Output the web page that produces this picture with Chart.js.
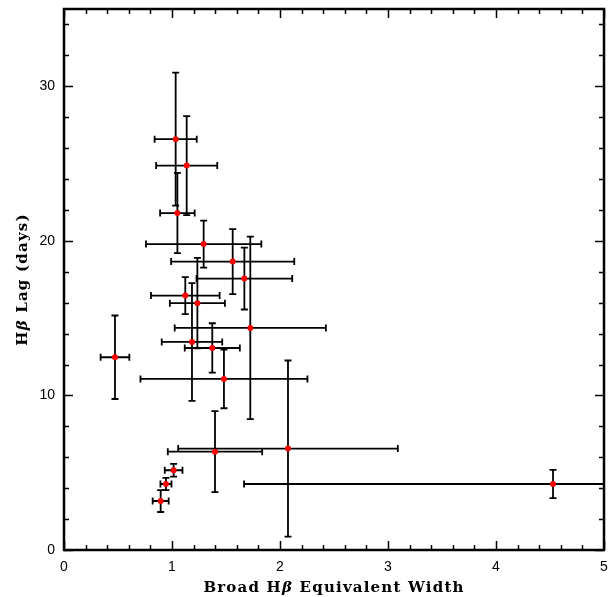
<!DOCTYPE html>
<html>
<head>
<meta charset="utf-8">
<script src="https://cdn.jsdelivr.net/npm/chart.js@4.4.1/dist/chart.umd.min.js"></script>
<style>
  html, body { margin: 0; padding: 0; background: #fff; }
  #wrap { width: 608px; height: 597px; }
</style>
</head>
<body>
<div id="wrap"><canvas id="lagChart" width="608" height="597"></canvas></div>
<script>
// Broad Hβ equivalent width against Hβ lag, with symmetric errors on both axes
const ewValues  = [1.034, 1.136, 1.050, 1.293, 1.562, 1.670, 1.123, 1.235, 1.725, 1.185, 1.373, 0.472, 1.481, 2.074, 1.398, 1.015, 0.944, 0.895, 4.528];
const ewErrors  = [0.195, 0.283, 0.160, 0.534, 0.570, 0.443, 0.318, 0.255, 0.700, 0.280, 0.255, 0.133, 0.773, 1.017, 0.437, 0.082, 0.051, 0.074, 2.861];
const lagValues = [26.58, 24.87, 21.80, 19.79, 18.66, 17.56, 16.46, 15.97, 14.37, 13.46, 13.07, 12.47, 11.07, 6.56, 6.36, 5.16, 4.27, 3.17, 4.27];
const lagErrors = [4.30, 3.20, 2.60, 1.52, 2.10, 2.00, 1.20, 2.93, 5.90, 3.81, 1.60, 2.70, 1.90, 5.70, 2.62, 0.41, 0.40, 0.71, 0.92];

const xTickValues = [0, 1, 2, 3, 4, 5];
const yTickValues = [0, 10, 20, 30];
const xMinorStep = 0.2;
const yMinorStep = 2;

// axis titles as [text, italic?] runs so the beta can be slanted
const xTitleParts = [['Broad H', false], ['β', true], [' Equivalent Width', false]];
const yTitleParts = [['H', false], ['β', true], [' Lag (days)', false]];

// error bars go under the red points, clipped to the plot box
const errorBarPlugin = {
    id: 'errorBars',
    beforeDatasetsDraw(chart) {
        const { ctx, chartArea, scales: { x, y } } = chart;
        const cap = 3.5;
        ctx.save();
        ctx.beginPath();
        ctx.rect(chartArea.left, chartArea.top, chartArea.right - chartArea.left, chartArea.bottom - chartArea.top);
        ctx.clip();
        ctx.strokeStyle = '#000';
        ctx.lineWidth = 1.8;
        ewValues.forEach((ew, i) => {
            const px = x.getPixelForValue(ew);
            const py = y.getPixelForValue(lagValues[i]);
            const x0 = x.getPixelForValue(ew - ewErrors[i]);
            const x1 = x.getPixelForValue(ew + ewErrors[i]);
            const y0 = y.getPixelForValue(lagValues[i] - lagErrors[i]);
            const y1 = y.getPixelForValue(lagValues[i] + lagErrors[i]);
            ctx.beginPath();
            ctx.moveTo(x0, py); ctx.lineTo(x1, py);
            ctx.moveTo(x0, py - cap); ctx.lineTo(x0, py + cap);
            ctx.moveTo(x1, py - cap); ctx.lineTo(x1, py + cap);
            ctx.moveTo(px, y0); ctx.lineTo(px, y1);
            ctx.moveTo(px - cap, y0); ctx.lineTo(px + cap, y0);
            ctx.moveTo(px - cap, y1); ctx.lineTo(px + cap, y1);
            ctx.stroke();
        });
        ctx.restore();
    }
};

function titleFont(italic) {
    return (italic ? 'italic ' : '') + 'bold 15px "DejaVu Serif", serif';
}

// draws the runs centred on (0, 0) with the baseline at y = 0
function drawRuns(ctx, parts) {
    ctx.letterSpacing = '1.2px';
    const widths = parts.map(([text, italic]) => {
        ctx.font = titleFont(italic);
        return ctx.measureText(text).width;
    });
    let cursor = -widths.reduce((a, b) => a + b, 0) / 2;
    parts.forEach(([text, italic], i) => {
        ctx.font = titleFont(italic);
        ctx.fillText(text, cursor, 0);
        cursor += widths[i];
    });
}

// box frame with inward major/minor ticks on all four sides, plus axis titles
const framePlugin = {
    id: 'frame',
    afterDraw(chart) {
        const { ctx, chartArea: { left, right, top, bottom }, scales: { x, y } } = chart;
        const majorLen = 9, minorLen = 5;
        ctx.save();
        ctx.strokeStyle = '#000';
        ctx.lineWidth = 1.5;
        ctx.beginPath();
        for (let v = x.min; v <= x.max + 1e-9; v += xMinorStep) {
            const isMajor = xTickValues.some(t => Math.abs(t - v) < 1e-6);
            const len = isMajor ? majorLen : minorLen;
            const px = Math.round(x.getPixelForValue(v)) + 0.5;
            ctx.moveTo(px, bottom); ctx.lineTo(px, bottom - len);
            ctx.moveTo(px, top); ctx.lineTo(px, top + len);
        }
        for (let v = y.min; v <= y.max + 1e-9; v += yMinorStep) {
            const isMajor = yTickValues.some(t => Math.abs(t - v) < 1e-6);
            const len = isMajor ? majorLen : minorLen;
            const py = Math.round(y.getPixelForValue(v)) + 0.5;
            ctx.moveTo(left, py); ctx.lineTo(left + len, py);
            ctx.moveTo(right, py); ctx.lineTo(right - len, py);
        }
        ctx.stroke();

        ctx.lineWidth = 2.5;
        ctx.strokeRect(left, top, right - left, bottom - top);

        ctx.fillStyle = '#000';
        ctx.textAlign = 'left';
        ctx.textBaseline = 'alphabetic';

        ctx.save();
        ctx.translate((left + right) / 2, 592);
        drawRuns(ctx, xTitleParts);
        ctx.restore();

        ctx.save();
        ctx.translate(27, (top + bottom) / 2);
        ctx.rotate(-Math.PI / 2);
        drawRuns(ctx, yTitleParts);
        ctx.restore();

        ctx.restore();
    }
};

const tickFont = { family: '"Liberation Sans", Arial, sans-serif', size: 14 };

const ctx = document.getElementById('lagChart').getContext('2d');
const lagChart = new Chart(ctx, {
    type: 'scatter',
    data: {
        datasets: [{
            data: ewValues.map((ew, i) => ({ x: ew, y: lagValues[i] })),
            pointRadius: 3,
            pointHoverRadius: 3,
            backgroundColor: '#ff0000',
            borderWidth: 0
        }]
    },
    options: {
        responsive: false,
        animation: false,
        devicePixelRatio: 1,
        layout: { padding: { top: 9, right: 4, left: 0, bottom: 0 } },
        plugins: {
            legend: { display: false },
            tooltip: { enabled: false }
        },
        scales: {
            x: {
                type: 'linear',
                min: 0,
                max: 5,
                grid: { display: false, drawTicks: false },
                border: { display: false },
                afterBuildTicks: scale => { scale.ticks = xTickValues.map(v => ({ value: v })); },
                afterFit: scale => {
                    scale.height = 47;
                    scale.paddingLeft = 0;
                    scale.paddingRight = 0;
                },
                ticks: { color: '#000', font: tickFont, padding: 9, maxRotation: 0 }
            },
            y: {
                type: 'linear',
                min: 0,
                max: 35,
                grid: { display: false, drawTicks: false },
                border: { display: false },
                afterBuildTicks: scale => { scale.ticks = yTickValues.map(v => ({ value: v })); },
                afterFit: scale => {
                    scale.width = 64;
                    scale.paddingTop = 0;
                    scale.paddingBottom = 0;
                },
                ticks: { color: '#000', font: tickFont, padding: 9 }
            }
        }
    },
    plugins: [errorBarPlugin, framePlugin]
});
</script>
</body>
</html>
